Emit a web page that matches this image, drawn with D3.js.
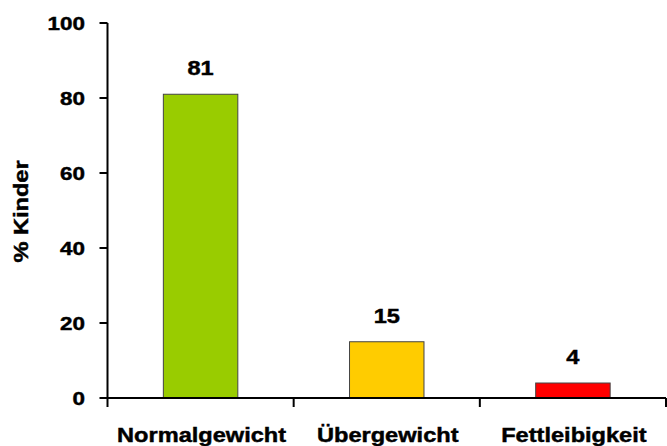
<!DOCTYPE html>
<html>
<head>
<meta charset="utf-8">
<script src="https://cdn.jsdelivr.net/npm/d3@7"></script>
<style>
  html, body { margin: 0; padding: 0; background: #fff; }
  svg { display: block; }
  text { font-family: "Liberation Sans", Arial, sans-serif; font-weight: bold; fill: #000; stroke: #000; stroke-width: 0.45px; }
</style>
</head>
<body>
<svg id="chart" width="667" height="446"></svg>
<script>
const categories = ["Normalgewicht", "Übergewicht", "Fettleibigkeit"];
const values = [81, 15, 4];
const colors = ["#99CC00", "#FFCC00", "#FF0000"];
const yTicks = [0, 20, 40, 60, 80, 100];
const yLabel = "% Kinder";

const svg = d3.select("#chart");
const SX = 1.18; // horizontal stretch of the original text

const x = d3.scaleBand().domain(categories).range([107.5, 666]).paddingInner(0.6).paddingOuter(0.3);
const y = d3.scaleLinear().domain([0, 100]).range([398, 23]);

// bars
svg.selectAll("rect.bar").data(values).enter().append("rect")
  .attr("class", "bar")
  .attr("x", (d, i) => x(categories[i]))
  .attr("width", x.bandwidth())
  .attr("y", d => y(d))
  .attr("height", d => y(0) - y(d))
  .attr("fill", (d, i) => colors[i])
  .attr("stroke", "#444")
  .attr("stroke-width", 1);

// value labels
svg.selectAll("text.val").data(values).enter().append("text")
  .attr("class", "val")
  .attr("text-anchor", "middle")
  .attr("font-size", 20)
  .attr("transform", (d, i) => `translate(${x(categories[i]) + x.bandwidth() / 2},${y(d) - 19}) scale(${SX},1)`)
  .text(d => d);

// y axis
const x0 = x.range()[0];
svg.append("line").attr("x1", x0).attr("x2", x0).attr("y1", y(100)).attr("y2", y(0) + 1)
  .attr("stroke", "#000").attr("stroke-width", 2);
svg.selectAll("line.ytick").data(yTicks).enter().append("line")
  .attr("x1", x0 - 8).attr("x2", x0).attr("y1", d => y(d)).attr("y2", d => y(d))
  .attr("stroke", "#000").attr("stroke-width", 2);
svg.selectAll("text.ytl").data(yTicks).enter().append("text")
  .attr("class", "ytl")
  .attr("text-anchor", "end")
  .attr("font-size", 19)
  .attr("dy", "0.35em")
  .attr("transform", d => `translate(85,${y(d)}) scale(${SX},1)`)
  .text(d => d);

// x axis
svg.append("line").attr("x1", x0 - 1).attr("x2", x.range()[1]).attr("y1", y(0)).attr("y2", y(0))
  .attr("stroke", "#000").attr("stroke-width", 2);
const edges = d3.range(categories.length + 1).map(i => x0 + (x.range()[1] - x0) * i / categories.length);
svg.selectAll("line.xtick").data(edges).enter().append("line")
  .attr("x1", d => d).attr("x2", d => d).attr("y1", y(0)).attr("y2", y(0) + 9)
  .attr("stroke", "#000").attr("stroke-width", 2);
svg.selectAll("text.xtl").data(categories).enter().append("text")
  .attr("class", "xtl")
  .attr("text-anchor", "middle")
  .attr("font-size", 20)
  .attr("transform", d => `translate(${x(d) + x.bandwidth() / 2 + 1},442) scale(${SX},1)`)
  .text(d => d);

// y label
svg.append("text")
  .attr("text-anchor", "middle")
  .attr("font-size", 20)
  .attr("transform", `translate(27.5,${(y(0) + y(100)) / 2 + 1}) rotate(-90) scale(${SX},1)`)
  .text(yLabel);
</script>
</body>
</html>
